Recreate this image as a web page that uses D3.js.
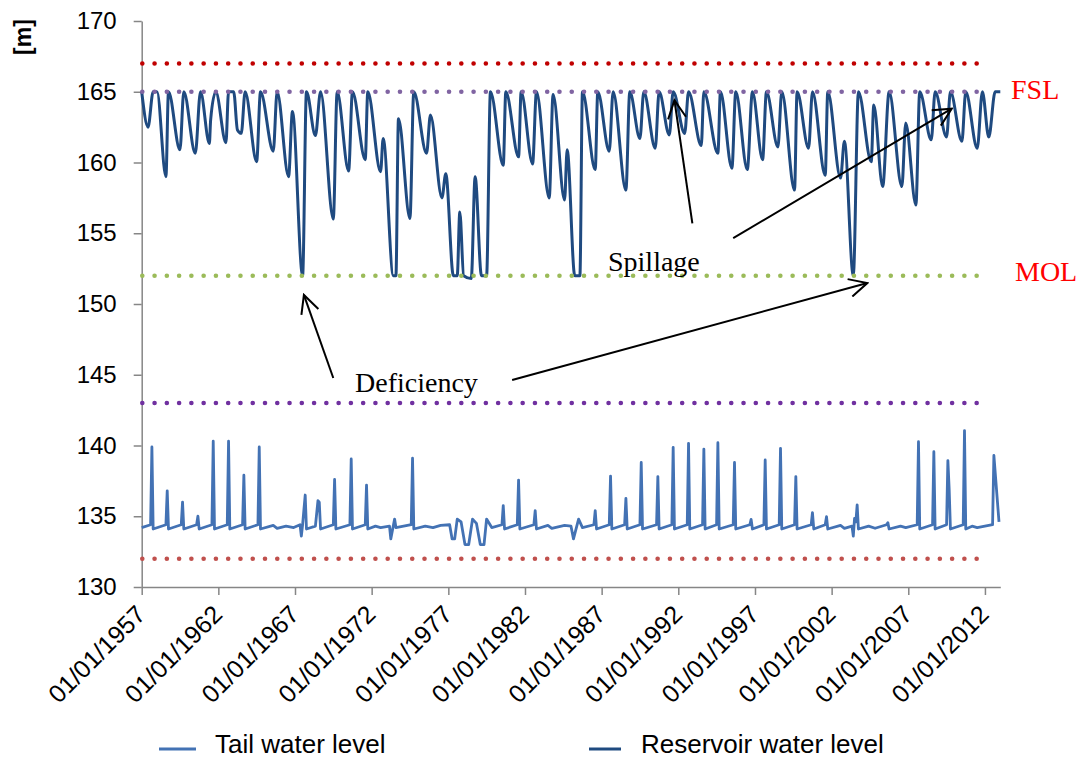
<!DOCTYPE html>
<html lang="en">
<head>
<meta charset="utf-8">
<title>Reservoir and tail water level</title>
<script src="https://cdnjs.cloudflare.com/ajax/libs/d3/7.8.5/d3.min.js"></script>
<style>
  body { margin: 0; background: #fff; }
  svg { display: block; font-family: "Liberation Sans", Arial, sans-serif; }
</style>
</head>
<body>
<svg id="chart" width="1088" height="758"></svg>
<script>
// ---- data ----
var tickYears = [1957, 1962, 1967, 1972, 1977, 1982, 1987, 1992, 1997, 2002, 2007, 2012];
var yTicks = [130, 135, 140, 145, 150, 155, 160, 165, 170];

// reference levels (dotted lines)
var levelValues = [167, 165, 152, 143, 132];
var levelStart = "1957-01", levelEnd = "2012-03";

// reservoir water level, turning points [month, m]
var reservoir = [
  ["1957-01",165],["1957-06",162.5],["1957-10",165],["1958-01",165],["1958-08",159.0],["1958-10",165],
  ["1959-07",160.9],["1959-10",165],["1960-07",160.65],["1960-11",165],["1961-06",161.35],["1961-07",163.0],
  ["1961-11",165],["1962-07",161.4],["1962-09",165],["1963-01",165],["1963-04",162.3],["1963-07",162.06],
  ["1963-10",165],["1964-07",160.06],["1964-10",165],["1965-08",160.8],["1965-11",165],["1966-08",159.0],
  ["1966-11",163.6],["1967-07",152.0],["1967-10",165],["1968-05",161.9],["1968-09",165],["1969-07",156.0],
  ["1969-10",165],["1970-07",159.4],["1970-10",165],["1971-08",160.2],["1971-10",165],["1972-08",159.35],
  ["1972-10",161.7],["1973-06",152],["1973-08",152],["1973-10",163.1],["1974-07",156.05],["1974-10",165],
  ["1975-08",160.65],["1975-11",163.35],["1976-08",157.5],["1976-11",159.2],["1977-05",152],["1977-08",152],
  ["1977-10",156.5],["1978-01",152],["1978-07",151.8],["1978-10",159.0],["1979-03",152],["1979-07",152],
  ["1979-10",165],["1980-08",159.8],["1980-10",165],["1981-08",160.4],["1981-10",165],["1982-07",159.9],
  ["1982-10",165],["1983-08",157.5],["1983-11",164.8],["1984-08",157.35],["1984-10",160.9],["1985-04",152],
  ["1985-08",152],["1985-10",165],["1986-08",159.5],["1986-10",165],["1987-07",160.8],["1987-10",165],
  ["1988-08",158.05],["1988-11",165],["1989-07",161.7],["1989-10",165],["1990-07",161.0],["1990-10",165],
  ["1991-06",161.95],["1991-09",165],["1992-06",162.05],["1992-09",165],["1993-07",161.2],["1993-09",165],
  ["1994-08",160.65],["1994-10",165],["1995-07",159.6],["1995-10",165],["1996-07",159.5],["1996-11",165],
  ["1997-07",160.2],["1997-10",165],["1998-07",161.1],["1998-10",165],["1999-08",158.05],["1999-10",165],
  ["2000-07",161.0],["2000-10",165],["2001-08",159.1],["2001-10",165],["2002-08",158.9],["2002-11",161.5],
  ["2003-06",152],["2003-10",165],["2004-08",160.05],["2004-10",164.06],["2005-05",158.3],["2005-10",165],
  ["2006-08",158.3],["2006-11",162.8],["2007-07",157.0],["2007-10",165],["2008-07",161.6],["2008-10",165],
  ["2009-07",161.8],["2009-10",165],["2010-07",161.5],["2010-10",165],["2011-07",161.0],["2011-11",165],
  ["2012-04",161.8],["2012-09",165],["2013-01",165]
];

// tail water level [month, m]
var tailwater = [
  ["1957-01",134.2],["1957-08",134.4],["1957-09",139.9],["1957-10",134.1],
  ["1958-08",134.4],["1958-09",136.8],["1958-10",134.1],
  ["1959-08",134.4],["1959-09",136.0],["1959-10",134.1],
  ["1960-08",134.4],["1960-09",135.0],["1960-10",134.1],
  ["1961-08",134.4],["1961-09",140.3],["1961-10",134.1],
  ["1962-08",134.4],["1962-09",140.3],["1962-10",134.1],
  ["1963-08",134.4],["1963-09",137.9],["1963-10",134.1],
  ["1964-08",134.4],["1964-09",139.9],["1964-10",134.1],
  ["1965-08",134.35],["1965-11",134.15],["1966-06",134.3],["1966-12",134.2],
  ["1967-05",134.4],["1967-06",133.6],["1967-07",134.4],["1967-09",136.5],["1967-10",134.1],
  ["1968-05",134.3],["1968-07",136.1],["1968-08",136.0],["1968-09",134.1],
  ["1969-07",134.4],["1969-08",137.6],["1969-09",134.1],
  ["1970-08",134.4],["1970-09",139.05],["1970-10",134.1],
  ["1971-08",134.4],["1971-09",137.2],["1971-10",134.1],
  ["1972-04",134.3],["1972-08",134.2],["1973-03",134.3],["1973-04",133.4],["1973-07",134.8],["1973-08",134.2],
  ["1974-08",134.4],["1974-09",139.1],["1974-10",134.1],
  ["1975-07",134.3],["1976-01",134.2],["1976-07",134.35],["1977-02",134.4],["1977-04",133.4],["1977-06",133.4],
  ["1977-08",134.8],["1977-11",134.6],["1978-02",133.0],["1978-05",133.0],["1978-08",134.8],["1978-11",134.5],
  ["1979-02",133.0],["1979-05",133.0],["1979-07",134.8],["1979-11",134.2],
  ["1980-07",134.4],["1980-08",135.75],["1980-09",134.1],
  ["1981-07",134.4],["1981-08",137.56],["1981-09",134.1],
  ["1982-08",134.4],["1982-09",135.4],["1982-10",134.1],
  ["1983-07",134.35],["1983-10",134.15],["1984-08",134.35],["1985-01",134.3],["1985-03",133.4],
  ["1985-07",134.8],["1985-10",134.2],
  ["1986-07",134.4],["1986-08",135.4],["1986-09",134.1],
  ["1987-07",134.4],["1987-08",137.84],["1987-09",134.1],
  ["1988-07",134.4],["1988-08",136.27],["1988-09",134.1],
  ["1989-07",134.4],["1989-08",138.8],["1989-09",134.1],
  ["1990-08",134.4],["1990-09",137.8],["1990-10",134.1],
  ["1991-08",134.4],["1991-09",139.87],["1991-10",134.1],
  ["1992-08",134.4],["1992-09",140.15],["1992-10",134.1],
  ["1993-08",134.4],["1993-09",139.75],["1993-10",134.1],
  ["1994-07",134.4],["1994-08",140.2],["1994-09",134.1],
  ["1995-08",134.4],["1995-09",138.8],["1995-10",134.1],
  ["1996-09",134.4],["1996-10",134.78],["1996-11",134.1],
  ["1997-08",134.4],["1997-09",138.98],["1997-10",134.1],
  ["1998-08",134.4],["1998-09",139.8],["1998-10",134.1],
  ["1999-08",134.4],["1999-09",137.8],["1999-10",134.1],
  ["2000-09",134.4],["2000-10",135.25],["2000-11",134.1],
  ["2001-08",134.4],["2001-09",134.97],["2001-10",134.1],
  ["2002-08",134.35],["2002-11",134.15],["2003-05",134.3],["2003-06",133.6],["2003-07",134.85],
  ["2003-08",134.6],["2003-09",135.8],["2003-10",134.1],
  ["2004-06",134.3],["2004-11",134.15],["2005-08",134.4],["2005-09",134.55],["2005-10",134.1],
  ["2006-07",134.3],["2006-11",134.2],
  ["2007-08",134.4],["2007-09",140.27],["2007-10",134.1],
  ["2008-08",134.4],["2008-09",139.56],["2008-10",134.1],
  ["2009-07",134.4],["2009-08",138.93],["2009-09",136.9],["2009-10",134.1],
  ["2010-08",134.4],["2010-09",141.05],["2010-10",134.1],
  ["2011-03",134.3],["2011-07",134.2],
  ["2012-07",134.4],["2012-08",139.3],["2012-12",134.6]
];

var seriesNames = ["Tail water level", "Reservoir water level"];

// ---- drawing ----
var parseMonth = d3.timeParse("%Y-%m");
var svg = d3.select("#chart");

var x = d3.scaleTime()
  .domain([new Date(1957, 0, 1), new Date(2013, 0, 1)])
  .range([141.7, 1000.3]);
var y = d3.scaleLinear().domain([130, 170]).range([587, 21]);

var axisColor = "#868686";
var levelColors = ["#c00000", "#8064a2", "#9bbb59", "#7030a0", "#c0504d"];
var tailColor = "#4372b4", resColor = "#1f4a80";

// y axis
var yAxis = svg.append("g")
  .attr("transform", "translate(" + x.range()[0] + ",0)")
  .call(d3.axisLeft(y).tickValues(yTicks).tickSize(8).tickSizeOuter(0).tickPadding(17));
yAxis.select(".domain").attr("stroke", axisColor).attr("stroke-width", 1.5);
yAxis.selectAll(".tick line").attr("stroke", axisColor).attr("stroke-width", 1.5);
yAxis.selectAll(".tick text").attr("font-size", 24).attr("fill", "#000")
  .attr("font-family", "'Liberation Sans', Arial, sans-serif");

// x axis
var fmt = d3.timeFormat("%d/%m/%Y");
var xAxis = svg.append("g")
  .attr("transform", "translate(0," + y(130) + ")")
  .call(d3.axisBottom(x)
    .tickValues(tickYears.map(function(yr) { return new Date(yr, 0, 1); }))
    .tickFormat(fmt).tickSize(8).tickSizeOuter(0));
xAxis.select(".domain").attr("stroke", axisColor).attr("stroke-width", 1.5);
xAxis.selectAll(".tick line").attr("stroke", axisColor).attr("stroke-width", 1.5);
xAxis.selectAll(".tick text")
  .attr("font-size", 25).attr("fill", "#000")
  .attr("font-family", "'Liberation Sans', Arial, sans-serif")
  .attr("text-anchor", "end")
  .attr("y", 0).attr("dy", 0)
  .attr("transform", "translate(5,29) rotate(-45)");

// y unit label
svg.append("text")
  .attr("transform", "translate(31,37) rotate(-90)")
  .attr("text-anchor", "middle")
  .attr("font-size", 23).attr("font-weight", "bold")
  .text("[m]");

// series lines
var line = d3.line()
  .x(function(d) { return x(parseMonth(d[0])); })
  .y(function(d) { return y(d[1]); });

svg.append("path")
  .datum(tailwater)
  .attr("fill", "none").attr("stroke", tailColor).attr("stroke-width", 2.8)
  .attr("stroke-linejoin", "round")
  .attr("d", line.curve(d3.curveLinear));

svg.append("path")
  .datum(reservoir)
  .attr("fill", "none").attr("stroke", resColor).attr("stroke-width", 3)
  .attr("stroke-linejoin", "round")
  .attr("d", line.curve(d3.curveMonotoneX));

// dotted reference levels
svg.append("g").selectAll("line")
  .data(levelValues)
  .enter().append("line")
  .attr("x1", x(parseMonth(levelStart)) + 0.6)
  .attr("x2", x(parseMonth(levelEnd)))
  .attr("y1", function(d) { return y(d); })
  .attr("y2", function(d) { return y(d); })
  .attr("stroke", function(d, i) { return levelColors[i]; })
  .attr("stroke-width", 4.6)
  .attr("stroke-linecap", "round")
  .attr("stroke-dasharray", "0 12.27");

// level labels
var serif = "'Liberation Serif', 'Times New Roman', serif";
svg.append("text").attr("x", 1011).attr("y", 99)
  .attr("font-family", serif).attr("font-size", 28).attr("fill", "#ff0000").text("FSL");
svg.append("text").attr("x", 1015).attr("y", 281)
  .attr("font-family", serif).attr("font-size", 28).attr("fill", "#ff0000").text("MOL");

// annotations
svg.append("defs").append("marker")
  .attr("id", "head")
  .attr("markerUnits", "userSpaceOnUse")
  .attr("viewBox", "-20 -10 22 20")
  .attr("markerWidth", 22).attr("markerHeight", 20)
  .attr("refX", 0).attr("refY", 0)
  .attr("orient", "auto")
  .append("path")
  .attr("d", "M-18,-9 L0,0 L-18,9")
  .attr("fill", "none").attr("stroke", "#000").attr("stroke-width", 2);

var arrows = [
  [["1992-12", 155.7], ["1991-10", 164.4]],
  [["1995-08", 154.65], ["2009-11", 163.8]],
  [["1969-07", 144.77], ["1967-08", 150.64]],
  [["1981-03", 144.63], ["2004-05", 151.48]]
];
svg.append("g").selectAll("line")
  .data(arrows)
  .enter().append("line")
  .attr("x1", function(d) { return x(parseMonth(d[0][0])); })
  .attr("y1", function(d) { return y(d[0][1]); })
  .attr("x2", function(d) { return x(parseMonth(d[1][0])); })
  .attr("y2", function(d) { return y(d[1][1]); })
  .attr("stroke", "#000").attr("stroke-width", 2)
  .attr("marker-end", "url(#head)");

svg.append("text").attr("x", 608).attr("y", 271)
  .attr("font-family", serif).attr("font-size", 28).text("Spillage");
svg.append("text").attr("x", 355).attr("y", 392)
  .attr("font-family", serif).attr("font-size", 28).text("Deficiency");

// legend
var legend = svg.append("g").attr("font-size", 26);
var legendItems = [
  { name: seriesNames[0], color: tailColor, x: 159, w: 37, tx: 215 },
  { name: seriesNames[1], color: resColor, x: 589, w: 32, tx: 641 }
];
legendItems.forEach(function(it) {
  legend.append("line")
    .attr("x1", it.x).attr("x2", it.x + it.w)
    .attr("y1", 749).attr("y2", 749)
    .attr("stroke", it.color).attr("stroke-width", 3);
  legend.append("text")
    .attr("x", it.tx).attr("y", 753)
    .text(it.name);
});
</script>
</body>
</html>
